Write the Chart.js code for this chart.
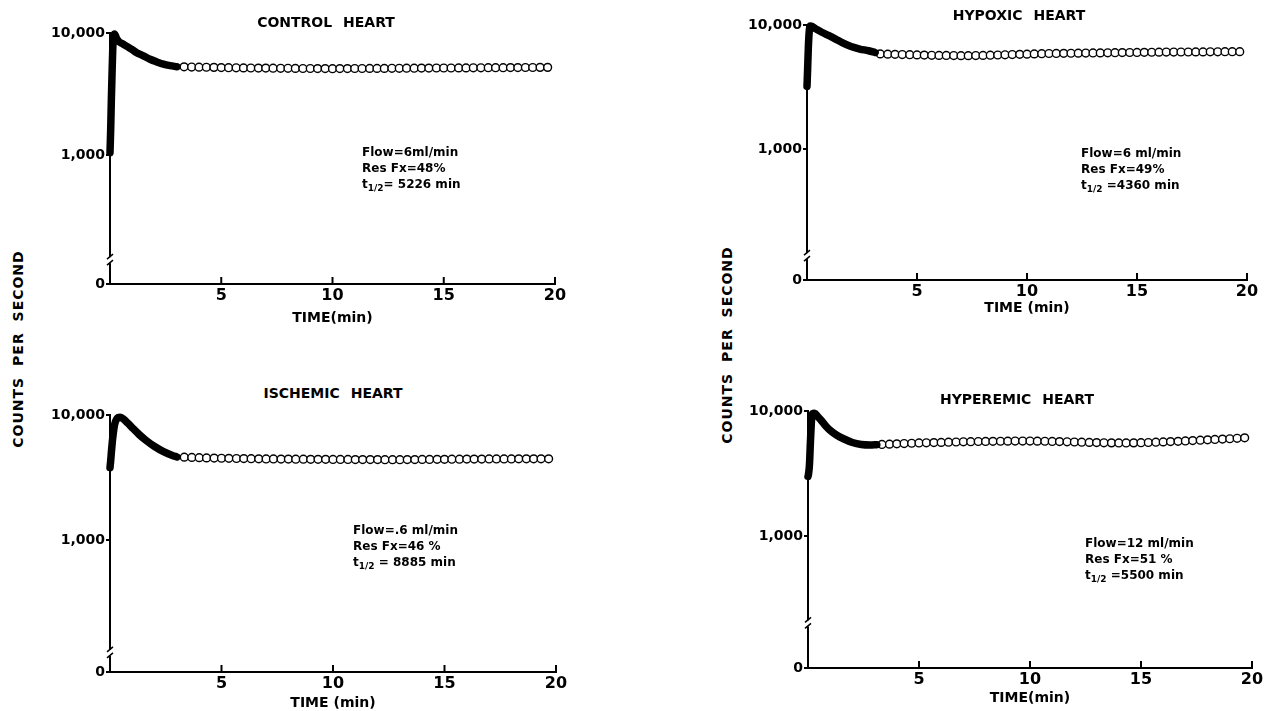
<!DOCTYPE html>
<html>
<head>
<meta charset="utf-8">
<script src="https://cdn.jsdelivr.net/npm/chart.js@4.4.1/dist/chart.umd.min.js"></script>
<style>
body { margin: 0; background: #fff; }
#page { position: relative; width: 1265px; height: 711px; overflow: hidden; background: #fff; font-family: "DejaVu Sans", sans-serif; color: #000; }
canvas { position: absolute; }
.ttl { position: absolute; transform: translate(-50%, -50%); font-weight: bold; font-size: 14px; word-spacing: 6px; white-space: nowrap; }
.note { position: absolute; font-size: 12px; font-weight: bold; line-height: 16px; white-space: nowrap; }
.note sub { font-size: 9px; }
.ylab { position: absolute; transform: translate(-50%, -50%) rotate(-90deg); font-weight: bold; font-size: 14px; letter-spacing: 1px; word-spacing: 5px; white-space: nowrap; }
</style>
</head>
<body>
<div id="page">
  <canvas id="control"></canvas>
  <canvas id="hypoxic"></canvas>
  <canvas id="ischemic"></canvas>
  <canvas id="hyperemic"></canvas>

  <div class="ttl" style="left:326px;top:22px">CONTROL HEART</div>
  <div class="ttl" style="left:1019px;top:15px">HYPOXIC HEART</div>
  <div class="ttl" style="left:333px;top:393px">ISCHEMIC HEART</div>
  <div class="ttl" style="left:1017px;top:399px">HYPEREMIC HEART</div>

  <div class="note" style="left:362px;top:144px">Flow=6ml/min<br>Res Fx=48%<br>t<sub>1/2</sub>= 5226 min</div>
  <div class="note" style="left:1081px;top:145px">Flow=6 ml/min<br>Res Fx=49%<br>t<sub>1/2</sub> =4360 min</div>
  <div class="note" style="left:353px;top:522px">Flow=.6 ml/min<br>Res Fx=46 %<br>t<sub>1/2</sub> = 8885 min</div>
  <div class="note" style="left:1085px;top:535px">Flow=12 ml/min<br>Res Fx=51 %<br>t<sub>1/2</sub> =5500 min</div>

  <div class="ylab" style="left:18px;top:349px">COUNTS PER SECOND</div>
  <div class="ylab" style="left:727px;top:345px">COUNTS PER SECOND</div>
</div>

<script>
// sampling times (min) after the 3 min wash-in, one count every 20 s
const plateauTime = [3.33, 3.67, 4, 4.33, 4.67, 5, 5.33, 5.67, 6, 6.33,
  6.67, 7, 7.33, 7.67, 8, 8.33, 8.67, 9, 9.33, 9.67,
  10, 10.33, 10.67, 11, 11.33, 11.67, 12, 12.33, 12.67, 13,
  13.33, 13.67, 14, 14.33, 14.67, 15, 15.33, 15.67, 16, 16.33,
  16.67, 17, 17.33, 17.67, 18, 18.33, 18.67, 19, 19.33, 19.67];

// control heart
const controlEarlyTime = [0, 0.03, 0.06, 0.09, 0.12, 0.15, 0.2, 0.3, 0.4, 0.6, 0.8, 1.0, 1.2, 1.5, 1.8, 2.1, 2.4, 2.7, 3.0];
const controlEarly = [1050, 1600, 2800, 4500, 7000, 9200, 9800, 9000, 8500, 8100, 7700, 7300, 6900, 6500, 6100, 5800, 5550, 5400, 5300];
const controlPlateau = [5280, 5260, 5250, 5240, 5230, 5210, 5200, 5190, 5180, 5170,
  5160, 5160, 5150, 5140, 5140, 5130, 5120, 5120, 5110, 5110,
  5100, 5110, 5110, 5120, 5120, 5130, 5130, 5130, 5140, 5140,
  5150, 5150, 5160, 5160, 5170, 5170, 5170, 5180, 5180, 5190,
  5190, 5200, 5200, 5200, 5210, 5210, 5220, 5220, 5230, 5230];

// hypoxic heart
const hypoxicEarlyTime = [0, 0.03, 0.06, 0.1, 0.15, 0.25, 0.4, 0.7, 1.0, 1.3, 1.6, 2.0, 2.4, 2.8, 3.1];
const hypoxicEarly = [3200, 4500, 6500, 8800, 9800, 9700, 9300, 8700, 8200, 7700, 7200, 6700, 6400, 6200, 6000];
const hypoxicPlateau = [5850, 5820, 5800, 5780, 5760, 5740, 5720, 5700, 5690, 5680,
  5670, 5660, 5660, 5670, 5690, 5710, 5730, 5750, 5780, 5800,
  5820, 5850, 5870, 5890, 5900, 5910, 5920, 5930, 5940, 5950,
  5960, 5970, 5980, 5990, 6000, 6010, 6020, 6030, 6040, 6050,
  6050, 6060, 6060, 6070, 6070, 6080, 6080, 6090, 6090, 6100];

// ischemic heart
const ischemicEarlyTime = [0, 0.03, 0.06, 0.1, 0.15, 0.2, 0.3, 0.45, 0.6, 0.8, 1.0, 1.3, 1.6, 2.0, 2.4, 2.8, 3.0];
const ischemicEarly = [3800, 4300, 5000, 6000, 7200, 8300, 9300, 9600, 9300, 8600, 7900, 7000, 6300, 5600, 5100, 4750, 4620];
const ischemicPlateau = [4600, 4580, 4560, 4540, 4520, 4510, 4500, 4490, 4480, 4470,
  4460, 4450, 4450, 4440, 4440, 4430, 4430, 4420, 4420, 4420,
  4410, 4410, 4410, 4400, 4400, 4400, 4400, 4390, 4390, 4390,
  4400, 4400, 4410, 4410, 4420, 4420, 4430, 4430, 4440, 4440,
  4440, 4450, 4450, 4450, 4450, 4460, 4460, 4460, 4460, 4460];

// hyperemic heart
const hyperemicEarlyTime = [0, 0.02, 0.04, 0.06, 0.08, 0.1, 0.13, 0.16, 0.2, 0.3, 0.45, 0.6, 0.8, 1.0, 1.3, 1.6, 2.0, 2.4, 2.8, 3.1];
const hyperemicEarly = [3000, 3100, 3300, 3600, 4200, 5200, 6800, 8500, 9500, 9600, 9000, 8400, 7600, 7000, 6400, 6000, 5600, 5400, 5350, 5380];
const hyperemicPlateau = [5400, 5430, 5460, 5490, 5520, 5550, 5570, 5590, 5610, 5630,
  5650, 5670, 5680, 5700, 5710, 5720, 5730, 5740, 5750, 5750,
  5750, 5740, 5730, 5710, 5690, 5670, 5650, 5630, 5610, 5590,
  5570, 5560, 5550, 5550, 5560, 5580, 5600, 5630, 5660, 5690,
  5720, 5760, 5800, 5840, 5880, 5920, 5960, 6000, 6050, 6100];

const xTicks = [5, 10, 15, 20];
const yTicks = [88, 1000, 10000];     // 88 sits at the broken bottom, labelled "0"
const yTickLabels = ["0", "1,000", "10,000"];

function pairs(xs, ys) {
  return xs.map((x, i) => ({ x: x, y: ys[i] }));
}

// inward x ticks + the little break mark on the y axis
const axisMarks = {
  id: "axisMarks",
  afterDraw(chart, args, opts) {
    const ctx = chart.ctx, a = chart.chartArea;
    const xs = chart.scales.x, ys = chart.scales.y;
    ctx.save();
    ctx.strokeStyle = "#000";
    ctx.lineWidth = 2;
    xTicks.forEach(v => {
      const px = xs.getPixelForValue(v);
      ctx.beginPath();
      ctx.moveTo(px, a.bottom);
      ctx.lineTo(px, a.bottom - 7);
      ctx.stroke();
    });
    const by = ys.getPixelForValue(opts.brk);
    ctx.fillStyle = "#fff";
    ctx.fillRect(a.left - 3, by - 3, 6, 6);
    ctx.lineWidth = 1.5;
    ctx.beginPath();
    ctx.moveTo(a.left - 3, by - 1); ctx.lineTo(a.left + 3, by - 6);
    ctx.moveTo(a.left - 3, by + 5); ctx.lineTo(a.left + 3, by);
    ctx.stroke();
    ctx.restore();
  }
};

const W = 70, PT = 12, PR = 20;

function panel(id, L, R, T, B, H, early, plateau, xTitle, brk) {
  const cv = document.getElementById(id);
  cv.width = R - L + W + PR;
  cv.height = B - T + PT + H;
  cv.style.left = (L - W) + "px";
  cv.style.top = (T - PT) + "px";

  new Chart(cv, {
    type: "scatter",
    data: {
      datasets: [{
        data: early,
        showLine: true,
        borderColor: "#000",
        borderWidth: 7.5,
        borderCapStyle: "round",
        borderJoinStyle: "round",
        cubicInterpolationMode: "monotone",
        pointRadius: 0,
        clip: false
      }, {
        data: plateau,
        showLine: false,
        pointRadius: 3.9,
        pointBorderWidth: 1.4,
        pointBorderColor: "#000",
        pointBackgroundColor: "#fff",
        clip: false
      }]
    },
    options: {
      responsive: false,
      animation: false,
      layout: { padding: { left: 0, top: PT, right: PR, bottom: 0 } },
      plugins: {
        legend: { display: false },
        tooltip: { enabled: false },
        axisMarks: { brk: brk }
      },
      scales: {
        x: {
          type: "linear",
          min: 0,
          max: 20,
          afterBuildTicks: s => { s.ticks = xTicks.map(v => ({ value: v })); },
          afterFit: s => { s.height = H; },
          grid: { display: false, drawTicks: false },
          border: { display: true, color: "#000", width: 2 },
          ticks: { color: "#000", padding: 2, autoSkip: false, maxRotation: 0,
                   font: { family: "DejaVu Sans", weight: "bold", size: 16 } },
          title: { display: true, text: xTitle, color: "#000", padding: { top: 0, bottom: 2 },
                   font: { family: "DejaVu Sans", weight: "bold", size: 14 } }
        },
        y: {
          type: "logarithmic",
          min: 88,
          max: 10000,
          afterBuildTicks: s => { s.ticks = yTicks.map(v => ({ value: v })); },
          afterFit: s => { s.width = W; },
          grid: { display: true, drawOnChartArea: false, drawTicks: true, tickLength: 4, color: "#000", lineWidth: 2 },
          border: { display: true, color: "#000", width: 2 },
          ticks: { color: "#000", padding: 1, autoSkip: false,
                   font: { family: "DejaVu Sans", weight: "bold", size: 14 },
                   callback: (v, i) => yTickLabels[i] }
        }
      }
    },
    plugins: [axisMarks]
  });
}

panel("control", 110, 555, 33, 284, 45, pairs(controlEarlyTime, controlEarly), pairs(plateauTime, controlPlateau), "TIME(min)", 138);
panel("hypoxic", 807, 1247, 25, 280, 39, pairs(hypoxicEarlyTime, hypoxicEarly), pairs(plateauTime, hypoxicPlateau), "TIME (min)", 137);
panel("ischemic", 110, 556, 415, 672, 42, pairs(ischemicEarlyTime, ischemicEarly), pairs(plateauTime, ischemicPlateau), "TIME (min)", 125);
panel("hyperemic", 808, 1252, 411, 668, 41, pairs(hyperemicEarlyTime, hyperemicEarly), pairs(plateauTime, hyperemicPlateau), "TIME(min)", 200);
</script>
</body>
</html>
